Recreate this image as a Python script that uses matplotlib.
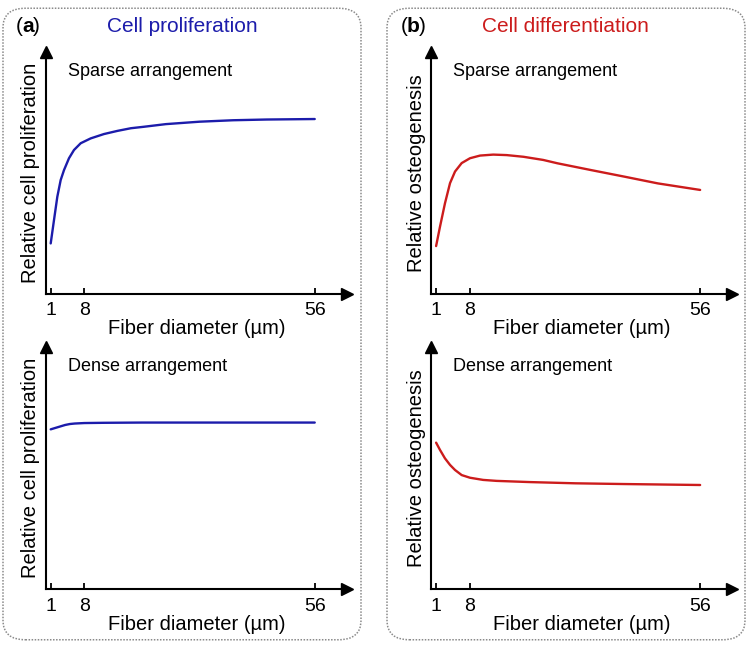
import matplotlib.pyplot as plt
from matplotlib.patches import FancyBboxPatch

plt.rcParams['font.family'] = ['Liberation Sans', 'DejaVu Sans']

# Data (fiber diameter in um, relative level 0-1)
x_sparse_prolif = [1.0, 1.69, 2.38, 3.08, 3.77, 4.81, 5.85, 7.25, 9.33, 12.1, 14.9, 17.7, 20.4, 25, 32, 39, 46, 56]
y_sparse_prolif = [0.209, 0.306, 0.402, 0.471, 0.512, 0.561, 0.595, 0.623, 0.643, 0.661, 0.674, 0.685, 0.691,
                   0.702, 0.712, 0.718, 0.721, 0.723]

x_dense_prolif = [1, 2, 3, 4, 5, 6, 8, 12, 20, 30, 40, 56]
y_dense_prolif = [0.661, 0.667, 0.673, 0.679, 0.683, 0.685, 0.687, 0.688, 0.689, 0.689, 0.689, 0.689]

x_sparse_osteo = [1.0, 1.81, 2.85, 3.9, 4.94, 6.33, 8.06, 10.15, 12.9, 15.7, 19.2, 23.3, 26.3, 33.3, 40.2, 47.2, 56.0]
y_sparse_osteo = [0.198, 0.278, 0.375, 0.458, 0.506, 0.541, 0.561, 0.572, 0.576, 0.574, 0.567, 0.554, 0.540,
                  0.512, 0.485, 0.457, 0.430]

x_dense_osteo = [1.0, 1.81, 2.85, 3.9, 4.94, 6.33, 8.06, 10.8, 13.6, 20.6, 30, 40, 56]
y_dense_osteo = [0.606, 0.576, 0.541, 0.514, 0.493, 0.472, 0.461, 0.452, 0.448, 0.443, 0.438, 0.435, 0.431]

xticks = [1, 8, 56]
blue = "#1c1cab"
red = "#cc1c1c"

# Create the figure
fig = plt.figure(figsize=(7.5, 6.48), dpi=100)

# Rounded dotted panel frames
for left in [3, 387]:
    box = FancyBboxPatch((left / 750 + 0.02, 5 / 648 + 0.025), 358 / 750 - 0.04, 638 / 648 - 0.05,
                         boxstyle="round,pad=0.02,rounding_size=0.03",
                         transform=fig.transFigure, fill=False, edgecolor="#8a8a8a",
                         linestyle=(0, (1, 1)), linewidth=1.1)
    fig.patches.append(box)

# Panel labels and titles
fig.text(16 / 750, 1 - 27 / 648, "(", fontsize=15, va="center", ha="left")
fig.text(22 / 750, 1 - 27 / 648, "a", fontsize=15, fontweight="bold", va="center", ha="left")
fig.text(33 / 750, 1 - 27 / 648, ")", fontsize=15, va="center", ha="left")
fig.text(401 / 750, 1 - 27 / 648, "(", fontsize=15, va="center", ha="left")
fig.text(407 / 750, 1 - 27 / 648, "b", fontsize=15, fontweight="bold", va="center", ha="left")
fig.text(419 / 750, 1 - 27 / 648, ")", fontsize=15, va="center", ha="left")
fig.text(182.5 / 750, 1 - 27 / 648, "Cell proliferation", fontsize=15, color=blue, va="center", ha="center")
fig.text(565 / 750, 1 - 27 / 648, "Cell differentiation", fontsize=15, color=red, va="center", ha="center")

# Axes positions
panels = [
    (45.9, 294, x_sparse_prolif, y_sparse_prolif, blue, "Sparse arrangement", "Relative cell proliferation"),
    (45.9, 589.3, x_dense_prolif, y_dense_prolif, blue, "Dense arrangement", "Relative cell proliferation"),
    (431.3, 294, x_sparse_osteo, y_sparse_osteo, red, "Sparse arrangement", "Relative osteogenesis"),
    (431.3, 589.3, x_dense_osteo, y_dense_osteo, red, "Dense arrangement", "Relative osteogenesis"),
]

for left, bottom, xs, ys, color, note, ylabel in panels:
    ax = fig.add_axes([left / 750, 1 - bottom / 648, 301 / 750, 242 / 648])
    ax.patch.set_alpha(0)
    ax.plot(xs, ys, color=color, linewidth=1.7, solid_joinstyle="round", solid_capstyle="round")
    ax.set_xlim(0, 62.7)
    ax.set_ylim(0, 1)

    # Spines with arrows
    ax.spines["top"].set_visible(False)
    ax.spines["right"].set_visible(False)
    ax.spines["left"].set_linewidth(1.5)
    ax.spines["bottom"].set_linewidth(1.5)
    ax.plot(1, 0, ">k", markersize=8, transform=ax.transAxes, clip_on=False)
    ax.plot(0, 1, "^k", markersize=8, transform=ax.transAxes, clip_on=False)

    # Ticks
    ax.set_xticks(xticks)
    ax.set_xticklabels([str(t) for t in xticks], fontsize=14)
    ax.set_yticks([])
    ax.tick_params(axis="x", direction="in", length=4, width=1.3, pad=6)

    # Labels
    ax.set_xlabel("Fiber diameter (\u00b5m)", fontsize=14.5, labelpad=0)
    ax.set_ylabel(ylabel, fontsize=14.5, labelpad=4)
    ax.text(22 / 301, 0.92, note, fontsize=13, transform=ax.transAxes, va="center", ha="left")

fig.savefig("out.png", dpi=100)
